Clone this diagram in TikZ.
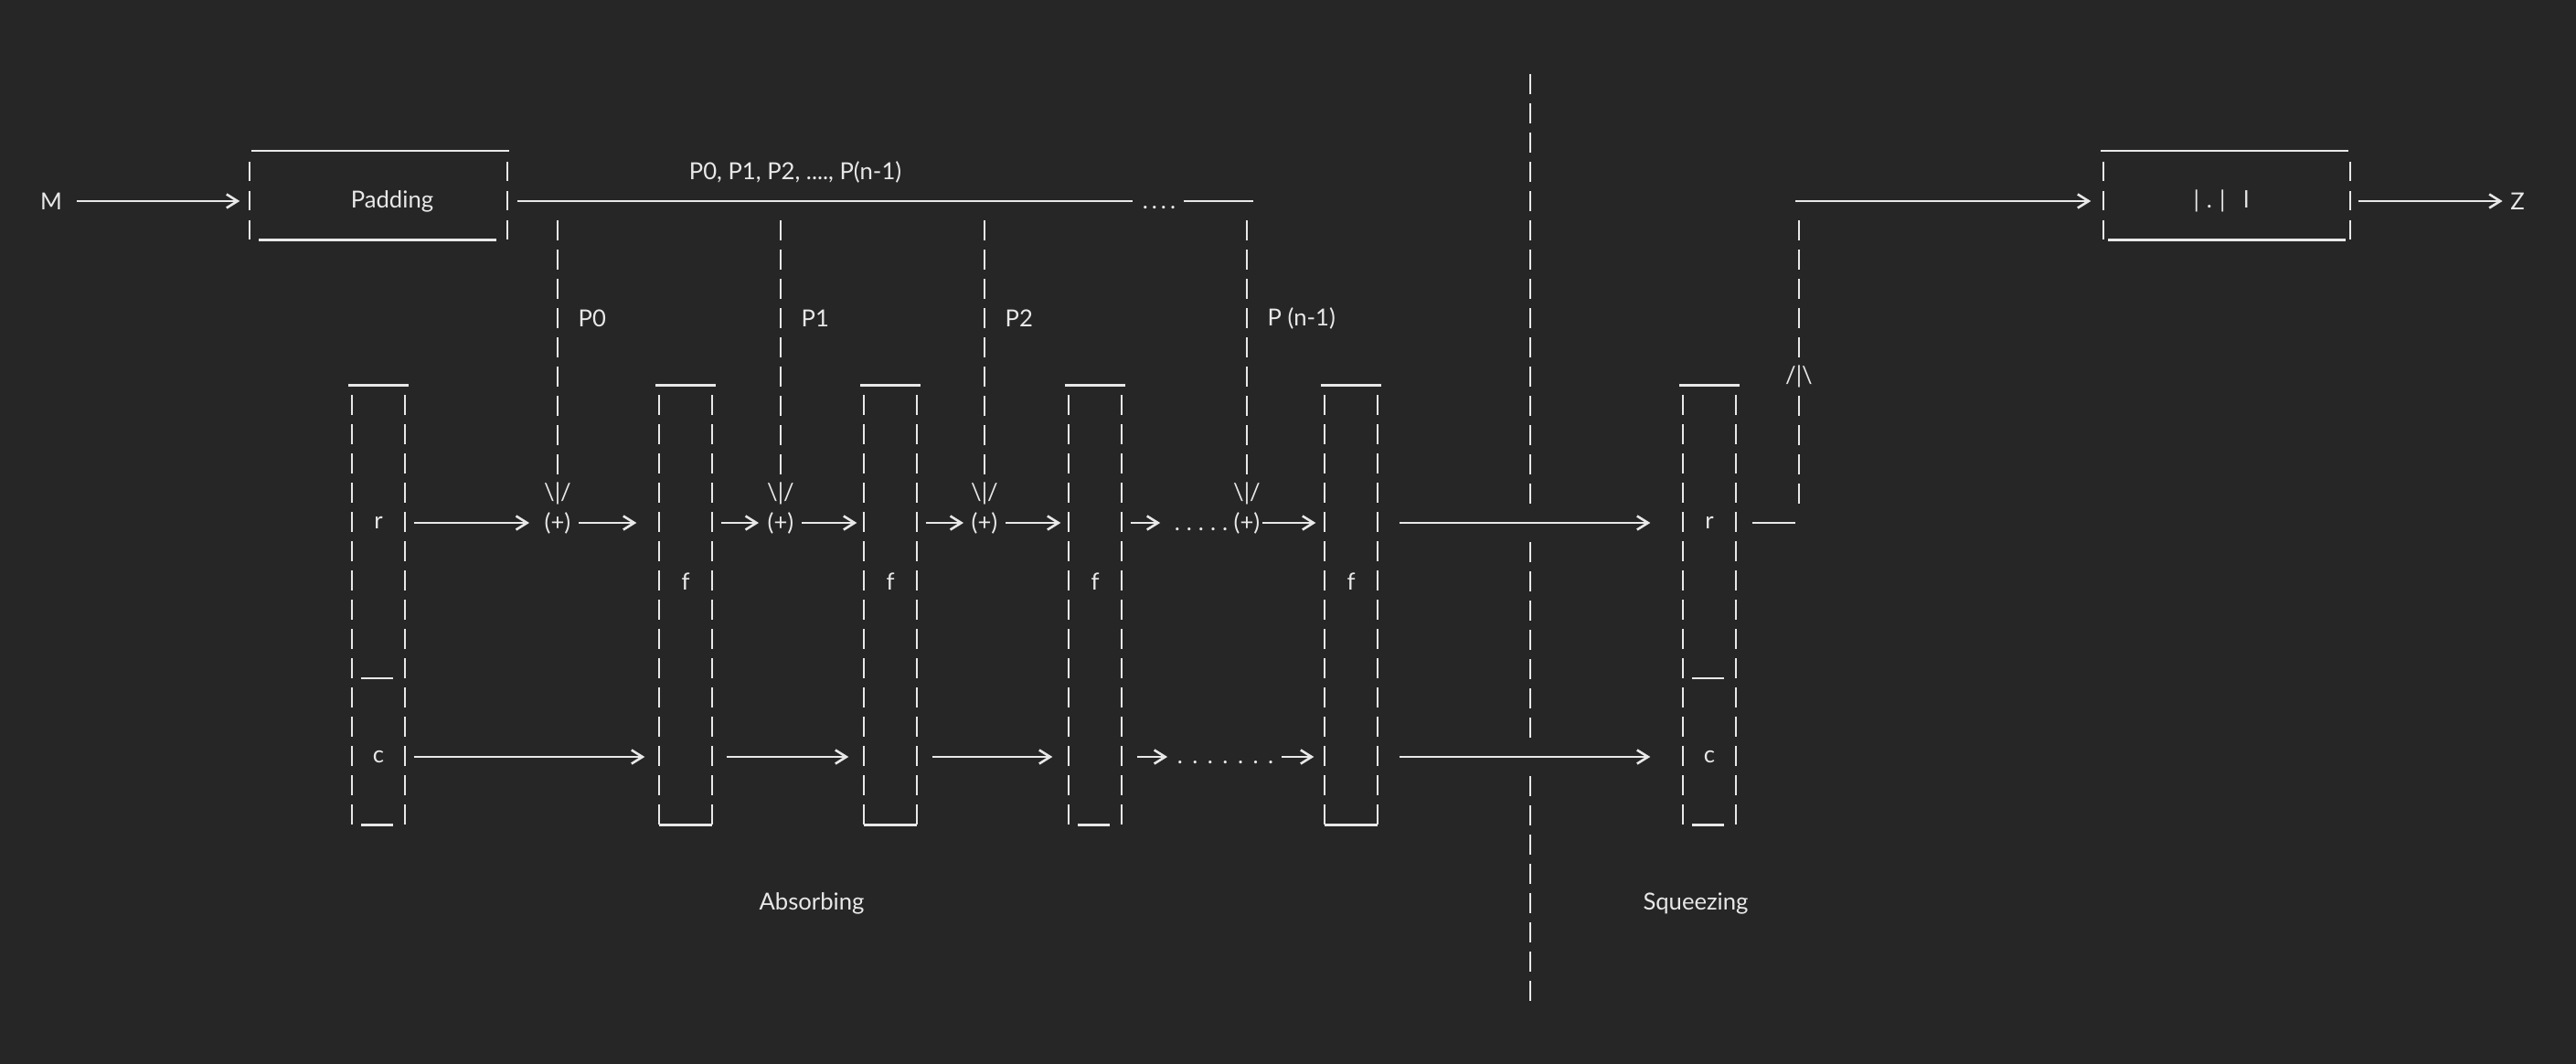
\documentclass[tikz,border=0pt]{standalone}
\usepackage{fontspec}
\setmainfont{Lato}
\usetikzlibrary{arrows.meta, calc}
\definecolor{bgcol}{RGB}{38,38,38}
\definecolor{inkcol}{RGB}{232,232,232}
\newcommand{\dotrun}[2]{.\foreach \k in {2,...,#1}{\hspace{#2}.}}

\tikzset{
  txt/.style={inner sep=0pt, text=inkcol, font=\fontsize{7.3}{8.5}\selectfont},
  bar/.style={draw=inkcol, line width=0.22mm, dash pattern=on 2.15mm off 1.05mm},
  rule/.style={draw=inkcol, line width=0.26mm},
  arr/.style={rule, -{Straight Barb[length=1.2mm,width=1.5mm]}},
  blk/.style={inner sep=0pt, minimum width=5.6mm, minimum height=47mm},
}

\begin{document}
\begin{tikzpicture}[x=1mm, y=-1mm] % y runs downwards
  \fill[bgcol] (0,0) rectangle (281.8,116.4);
  \useasboundingbox (0,0) rectangle (281.8,116.4);
  \coordinate (rrow) at (0,57.2);
  \coordinate (frow) at (0,63.6);
  \coordinate (crow) at (0,82.8);
  \coordinate (sepy) at (0,74.2);
  \coordinate (ptop) at (0,24.125);

  % message and padding
  \node[txt] (M) at (5.6,22.0) {M};
  \node[blk, minimum width=28mm, minimum height=8.55mm] (pad) at (41.4,22.0) {};
  \node[txt] (padtxt) at (42.9,22.0) {Padding};
  \draw[bar] (pad.north west) -- (pad.south west);
  \draw[bar] (pad.north east) -- (pad.south east);
  \draw[rule] ($(pad.north west)+(0.2,-1.15)$) -- ($(pad.north east)+(0.2,-1.15)$);
  \draw[rule] ($(pad.south west)+(1.0,-0.1)$) -- ($(pad.south east)+(-1.2,-0.1)$);
  \draw[arr, shorten <=1.5mm, shorten >=1.1mm] (M) -- (pad.west);

  % blocks P0 ... P(n-1)
  \node[txt] (plist) at (87.0,18.8) {P0, P1, P2, ...., P(n-1)};
  \node[txt, anchor=base] (tdots) at (126.8,22.85) {\dotrun{4}{0.4mm}};
  \coordinate (tend) at (137.1,22.0);
  \draw[rule, shorten <=1.1mm, shorten >=1mm] (pad.east) -- (pad.east -| tdots.west);
  \draw[rule, shorten <=0.8mm] (tdots.east |- pad.east) -- (tend);
  \foreach \i/\x/\lbl in {0/61.0/P0, 1/85.4/P1, 2/107.7/P2, 3/136.4/{P (n-1)}} {
    \node[txt] (vee\i) at (\x,54.0) {\textbackslash|/};
    \node[txt] (xor\i) at (\x,57.2) {(+)};
    \node[txt, anchor=west] (p\i) at (\x+2.2,34.8) {\lbl};
    \draw[bar] (vee\i |- ptop) -- (vee\i.north);
  }

  % states
  \foreach \nm/\x in {b0/41.4, b1/75.0, b2/97.4, b3/119.8, b4/147.8, sq/187.0} {
    \node[blk] (\nm) at (\x,66.8) {};
    \draw[bar] (\nm.north west) -- (\nm.south west);
    \draw[bar] (\nm.north east) -- (\nm.south east);
    \draw[rule] ($(\nm.north west)+(-0.4,-1.1)$) -- ($(\nm.north east)+(0.45,-1.1)$);
  }
  \foreach \nm in {b1, b2, b4}
    \draw[rule] ($(\nm.south west)+(0,-0.1)$) -- ($(\nm.south east)+(0,-0.1)$);
  \foreach \nm in {b0, b3, sq}
    \draw[rule] ($(\nm.south west)+(1.0,-0.1)$) -- ($(\nm.south east)+(-1.3,-0.1)$);
  \foreach \nm in {b0, sq}
    \draw[rule] ($(\nm.west |- sepy)+(1.0,0)$) -- ($(\nm.east |- sepy)+(-1.3,0)$);
  \node[txt] (r0) at (b0 |- rrow) {r};
  \node[txt] (c0) at (b0 |- crow) {c};
  \node[txt] (rs) at (sq |- rrow) {r};
  \node[txt] (cs) at (sq |- crow) {c};
  \foreach \nm in {b1, b2, b3, b4}
    \node[txt] (f-\nm) at (\nm |- frow) {f};

  % r part
  \node[txt, anchor=base] (rdots) at (131.4,58.0) {\dotrun{5}{0.7mm}};
  \draw[arr, shorten <=1mm, shorten >=1.6mm] (b0.east |- rrow) -- (xor0.west);
  \draw[arr, shorten <=0.8mm, shorten >=2.5mm] (xor0.east) -- (b1.west |- rrow);
  \draw[arr, shorten <=1mm, shorten >=0.9mm] (b1.east |- rrow) -- (xor1.west);
  \draw[arr, shorten <=0.8mm, shorten >=0.8mm] (xor1.east) -- (b2.west |- rrow);
  \draw[arr, shorten <=1mm, shorten >=0.8mm] (b2.east |- rrow) -- (xor2.west);
  \draw[arr, shorten <=0.8mm, shorten >=0.9mm] (xor2.east) -- (b3.west |- rrow);
  \draw[arr, shorten <=1mm, shorten >=1.5mm] (b3.east |- rrow) -- (rdots.west |- rrow);
  \draw[arr, shorten <=0.2mm, shorten >=1mm] (xor3.east) -- (b4.west |- rrow);
  \draw[arr, shorten <=2.4mm, shorten >=3.6mm] (b4.east |- rrow) -- (sq.west |- rrow);

  % c part
  \node[txt, anchor=base] (cdots) at (134.05,83.5) {\dotrun{7}{1.05mm}};
  \draw[arr, shorten <=1mm, shorten >=1.6mm] (b0.east |- crow) -- (b1.west |- crow);
  \draw[arr, shorten <=1.6mm, shorten >=1.7mm] (b1.east |- crow) -- (b2.west |- crow);
  \draw[arr, shorten <=1.7mm, shorten >=1.8mm] (b2.east |- crow) -- (b3.west |- crow);
  \draw[arr, shorten <=1.7mm, shorten >=1mm] (b3.east |- crow) -- (cdots.west |- crow);
  \draw[arr, shorten <=0.8mm, shorten >=1.2mm] (cdots.east |- crow) -- (b4.west |- crow);
  \draw[arr, shorten <=2.4mm, shorten >=3.6mm] (b4.east |- crow) -- (sq.west |- crow);

  % squeezing output
  \node[blk, minimum width=26.8mm, minimum height=8.55mm] (out) at (243.6,22.0) {};
  \draw[bar] (out.north west) -- (out.south west);
  \draw[bar] (out.north east) -- (out.south east);
  \draw[rule] ($(out.north west)+(-0.3,-1.15)$) -- ($(out.north east)+(-0.2,-1.15)$);
  \draw[rule] ($(out.south west)+(0.5,-0.1)$) -- ($(out.south east)+(-0.5,-0.1)$);
  \node[txt] (trunc) at (243.0,22.0) {|\hspace{0.8mm}.\hspace{0.8mm}|\hspace{2.0mm}l};
  \node[txt] (Z) at (275.4,22.0) {Z};
  \node[txt] (wedge) at (196.8,41.2) {/|\textbackslash};
  \coordinate (turn) at (196.4,57.2);
  \coordinate (lift) at (196.4,22.0);
  \draw[rule, shorten <=1.8mm] (sq.east |- rrow) -- (turn);
  \draw[bar] (196.8,55.075) -- (wedge.south);
  \draw[bar] (196.8,39.075) -- (196.8,24.125);
  \draw[arr, shorten >=1.4mm] (lift) -- (out.west);
  \draw[arr, shorten <=0.9mm, shorten >=0.8mm] (out.east) -- (Z);

  % phases
  \draw[bar] (167.4,8.125) -- (167.4,55.075);
  \draw[bar] (167.4,59.325) -- (167.4,80.675);
  \draw[bar] (167.4,84.925) -- (167.4,109.475);
  \node[txt] (absorb) at (88.8,98.8) {Absorbing};
  \node[txt] (squeeze) at (185.5,98.8) {Squeezing};
\end{tikzpicture}
\end{document}
